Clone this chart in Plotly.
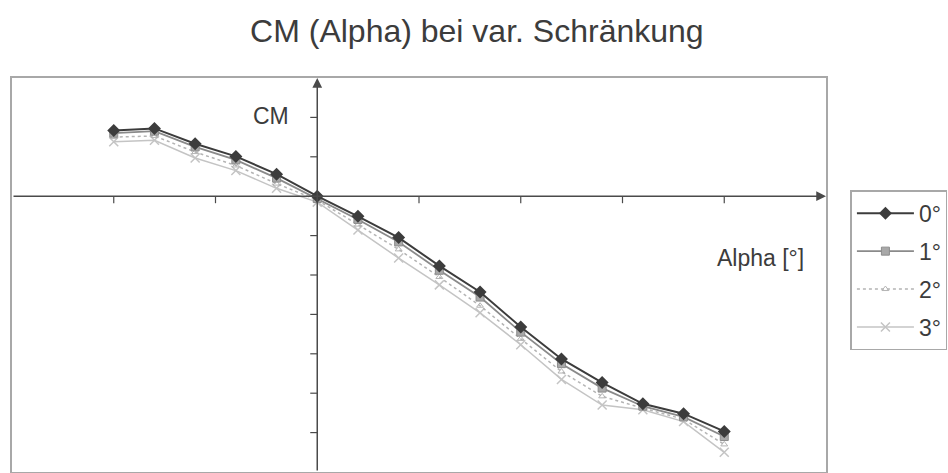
import plotly.graph_objects as go

# Pitching moment coefficient vs. angle of attack for four twist settings
alpha = [-10, -8, -6, -4, -2, 0, 2, 4, 6, 8, 10, 12, 14, 16, 18, 20]
cm_0 = [0.167, 0.172, 0.133, 0.101, 0.056, 0.000, -0.051, -0.105, -0.177, -0.243,
        -0.332, -0.413, -0.473, -0.527, -0.552, -0.597]
cm_1 = [0.160, 0.165, 0.125, 0.092, 0.046, -0.006, -0.059, -0.116, -0.188, -0.256,
        -0.345, -0.425, -0.487, -0.533, -0.560, -0.610]
cm_2 = [0.150, 0.153, 0.112, 0.078, 0.032, -0.010, -0.072, -0.135, -0.205, -0.278,
        -0.362, -0.445, -0.508, -0.538, -0.566, -0.630]
cm_3 = [0.138, 0.142, 0.097, 0.065, 0.020, -0.015, -0.086, -0.157, -0.225, -0.296,
        -0.377, -0.465, -0.530, -0.542, -0.572, -0.650]
series_names = ["0°", "1°", "2°", "3°"]

x_ticks = [-10, -5, 5, 10, 15, 20]
y_ticks = [0.2, 0.1, -0.1, -0.2, -0.3, -0.4, -0.5, -0.6]
x_range = [-15, 25]
y_range = [-0.7, 0.3]

FONT = "Liberation Sans, Arial, sans-serif"
AXIS_COLOR = "#4a4a4a"
TEXT_COLOR = "#3c3c3c"

fig = go.Figure()

# lighter series first so the 0° curve sits on top; legendrank keeps 0°..3° order
fig.add_trace(go.Scatter(
    x=alpha, y=cm_3, name=series_names[3], mode="lines+markers",
    legendgroup="g3", legendrank=4,
    line=dict(color="#c4c4c4", width=1.5),
    marker=dict(symbol="x-thin-open", size=9, line=dict(color="#b8b8b8", width=1.5)),
))
fig.add_trace(go.Scatter(
    x=alpha, y=cm_2, name=series_names[2], mode="lines+markers",
    legendgroup="g2", legendrank=3,
    line=dict(color="#b4b4b4", width=1.5, dash="dot"),
    marker=dict(symbol="triangle-up-open", size=6, line=dict(color="#c8c8c8", width=1)),
))
fig.add_trace(go.Scatter(
    x=alpha, y=cm_1, name=series_names[1], mode="lines+markers",
    legendgroup="g1", legendrank=2,
    line=dict(color="#8a8a8a", width=1.8),
    marker=dict(symbol="square", size=8, color="#a8a8a8", line=dict(color="#8c8c8c", width=1)),
))
fig.add_trace(go.Scatter(
    x=alpha, y=cm_0, name=series_names[0], mode="lines+markers",
    legendgroup="g0", legendrank=1,
    line=dict(color="#3c3c3c", width=2),
    marker=dict(symbol="diamond", size=10, color="#3c3c3c"),
))

shapes = []
# tick marks along the x axis (hanging below the zero line)
for t in x_ticks:
    shapes.append(dict(type="line", xref="x", yref="y", ysizemode="pixel", yanchor=0,
                       x0=t, x1=t, y0=0, y1=-7, line=dict(color=AXIS_COLOR, width=1.2)))
# tick marks along the y axis (to the left of alpha = 0)
for t in y_ticks:
    shapes.append(dict(type="line", xref="x", yref="y", xsizemode="pixel", xanchor=0,
                       x0=-7, x1=0, y0=t, y1=t, line=dict(color=AXIS_COLOR, width=1.2)))

annotations = [
    # axis arrows
    dict(x=0, y=y_range[1], ax=0, ay=y_range[0], xref="x", yref="y", axref="x", ayref="y",
         text="", showarrow=True, arrowhead=2, arrowsize=1.3, arrowwidth=1.5,
         arrowcolor=AXIS_COLOR, standoff=0, startstandoff=0),
    dict(x=x_range[1], y=0, ax=x_range[0], ay=0, xref="x", yref="y", axref="x", ayref="y",
         text="", showarrow=True, arrowhead=2, arrowsize=1.3, arrowwidth=1.5,
         arrowcolor=AXIS_COLOR, standoff=0, startstandoff=0),
    dict(text="CM", x=0.343, y=0.904, xref="paper", yref="paper", xanchor="right",
         yanchor="middle", showarrow=False, font=dict(family=FONT, size=23, color=TEXT_COLOR)),
    dict(text="Alpha [°]", x=0.976, y=0.543, xref="paper", yref="paper", xanchor="right",
         yanchor="middle", showarrow=False, font=dict(family=FONT, size=23, color=TEXT_COLOR)),
]

fig.update_layout(
    width=948, height=473,
    margin=dict(l=12, r=116, t=78, b=1),
    paper_bgcolor="white", plot_bgcolor="white",
    title=dict(text="CM (Alpha) bei var. Schränkung", x=0.503, xanchor="center",
               y=0.935, yanchor="middle", yref="container",
               font=dict(family=FONT, size=32, color=TEXT_COLOR)),
    xaxis=dict(range=x_range, showgrid=False, zeroline=False, showticklabels=False,
               ticks="", showline=True, mirror=True, linecolor="#a8a8a8", linewidth=1.5),
    yaxis=dict(range=y_range, showgrid=False, zeroline=False, showticklabels=False,
               ticks="", showline=True, mirror=True, linecolor="#a8a8a8", linewidth=1.5),
    legend=dict(x=1.03, y=0.715, xanchor="left", yanchor="top",
                bordercolor="#a8a8a8", borderwidth=1.5, bgcolor="white",
                traceorder="grouped", itemwidth=57, tracegroupgap=5,
                font=dict(family=FONT, size=23, color=TEXT_COLOR)),
    shapes=shapes,
    annotations=annotations,
)

fig.write_html("out.html")
